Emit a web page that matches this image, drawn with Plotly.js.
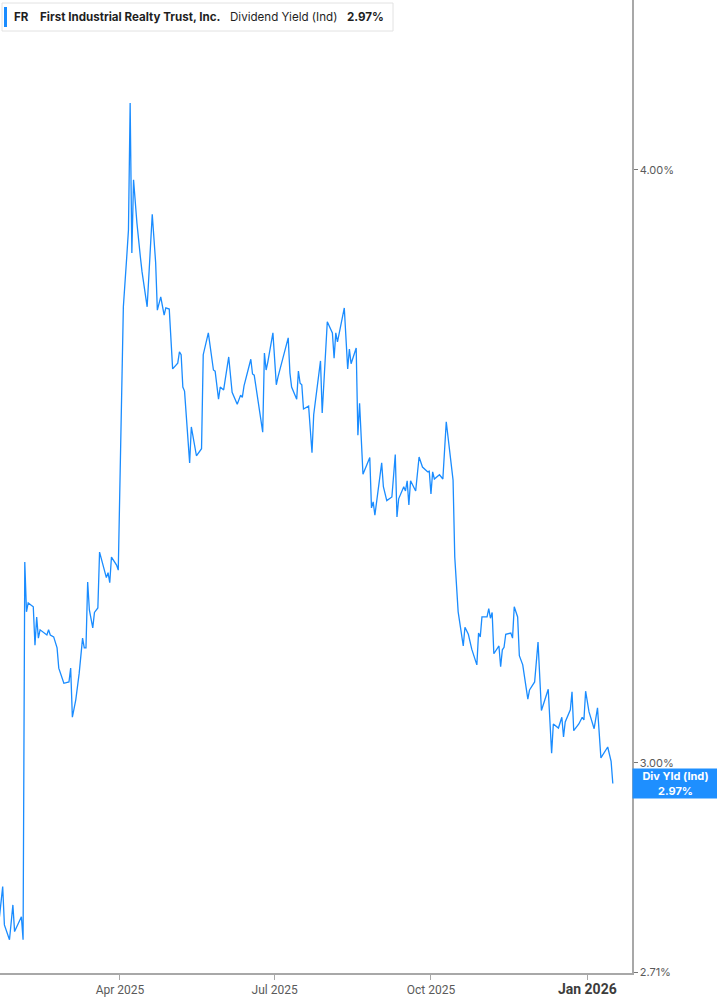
<!DOCTYPE html>
<html>
<head>
<meta charset="utf-8">
<script src="https://cdn.plot.ly/plotly-3.0.1.min.js"></script>
<style>
html,body{margin:0;padding:0;background:#fff;}
#chart{width:717px;height:1005px;}
</style>
</head>
<body>
<div id="chart"></div>
<script>
// ---- Data ----
const ticker = "FR";
const companyName = "First Industrial Realty Trust, Inc.";
const seriesName = "Dividend Yield (Ind)";
const shortName = "Div Yld (Ind)";

const dates = [
"2025-01-20","2025-01-22","2025-01-23","2025-01-26","2025-01-28","2025-01-29","2025-02-02","2025-02-03",
"2025-02-04","2025-02-05","2025-02-06","2025-02-09","2025-02-10","2025-02-11","2025-02-12","2025-02-13",
"2025-02-17","2025-02-18","2025-02-19","2025-02-21","2025-02-23","2025-02-24","2025-02-27","2025-03-02",
"2025-03-03","2025-03-04","2025-03-06","2025-03-08","2025-03-10","2025-03-11","2025-03-12","2025-03-13",
"2025-03-14","2025-03-16","2025-03-17","2025-03-19","2025-03-20","2025-03-24","2025-03-25","2025-03-26",
"2025-03-27","2025-03-30","2025-03-31","2025-04-03","2025-04-05","2025-04-06","2025-04-07","2025-04-08",
"2025-04-09","2025-04-11","2025-04-13","2025-04-14","2025-04-17","2025-04-20","2025-04-22","2025-04-23",
"2025-04-25","2025-04-27","2025-04-28","2025-04-30","2025-05-02","2025-05-05","2025-05-06","2025-05-07",
"2025-05-08","2025-05-09","2025-05-12","2025-05-13","2025-05-16","2025-05-19","2025-05-20","2025-05-23",
"2025-05-26","2025-05-27","2025-05-29","2025-05-30","2025-06-01","2025-06-04","2025-06-06","2025-06-09",
"2025-06-11","2025-06-12","2025-06-13","2025-06-15","2025-06-17","2025-06-18","2025-06-19","2025-06-24",
"2025-06-25","2025-06-26","2025-06-27","2025-06-30","2025-07-02","2025-07-03","2025-07-07","2025-07-09",
"2025-07-10","2025-07-11","2025-07-14","2025-07-15","2025-07-16","2025-07-17","2025-07-18","2025-07-21",
"2025-07-23","2025-07-24","2025-07-28","2025-07-29","2025-08-01","2025-08-04","2025-08-05","2025-08-06",
"2025-08-07","2025-08-11","2025-08-13","2025-08-14","2025-08-15","2025-08-18","2025-08-19","2025-08-20",
"2025-08-22","2025-08-26","2025-08-27","2025-08-28","2025-08-29","2025-09-02","2025-09-03","2025-09-05",
"2025-09-08","2025-09-10","2025-09-11","2025-09-12","2025-09-15","2025-09-16","2025-09-17","2025-09-18",
"2025-09-19","2025-09-22","2025-09-24","2025-09-26","2025-09-29","2025-09-30","2025-10-01","2025-10-02",
"2025-10-03","2025-10-06","2025-10-08","2025-10-10","2025-10-14","2025-10-15","2025-10-17","2025-10-20",
"2025-10-21","2025-10-23","2025-10-25","2025-10-28","2025-10-29","2025-10-30","2025-10-31","2025-11-03",
"2025-11-04","2025-11-05","2025-11-06","2025-11-07","2025-11-10","2025-11-11","2025-11-12","2025-11-13",
"2025-11-14","2025-11-17","2025-11-18","2025-11-19","2025-11-21","2025-11-22","2025-11-24","2025-11-27",
"2025-11-28","2025-12-01","2025-12-03","2025-12-05","2025-12-09","2025-12-11","2025-12-12","2025-12-15",
"2025-12-17","2025-12-18","2025-12-19","2025-12-22","2025-12-23","2025-12-24","2025-12-27","2025-12-29",
"2025-12-30","2025-12-31","2026-01-02","2026-01-05","2026-01-07","2026-01-09","2026-01-13","2026-01-14",
"2026-01-15","2026-01-16"
];

const yieldPct = [
2.782,2.825,2.773,2.753,2.800,2.764,2.784,2.753,
3.307,3.228,3.242,3.236,3.176,3.220,3.187,3.200,
3.192,3.200,3.192,3.189,3.172,3.141,3.118,3.120,
3.141,3.067,3.093,3.133,3.187,3.172,3.172,3.275,
3.231,3.203,3.227,3.234,3.323,3.282,3.290,3.274,
3.315,3.302,3.294,3.743,3.835,3.885,4.132,3.842,
3.981,3.898,3.835,3.807,3.743,3.915,3.824,3.737,
3.761,3.728,3.741,3.739,3.632,3.642,3.662,3.657,
3.600,3.593,3.470,3.531,3.482,3.494,3.657,3.696,
3.630,3.628,3.579,3.600,3.595,3.653,3.591,3.570,
3.586,3.582,3.602,3.626,3.649,3.623,3.621,3.522,
3.660,3.630,3.644,3.696,3.604,3.618,3.662,3.687,
3.625,3.600,3.579,3.628,3.607,3.604,3.562,3.567,
3.487,3.552,3.646,3.555,3.716,3.696,3.651,3.696,
3.680,3.741,3.632,3.667,3.641,3.669,3.517,3.572,
3.451,3.479,3.395,3.405,3.383,3.470,3.430,3.407,
3.413,3.484,3.380,3.410,3.430,3.423,3.440,3.400,
3.440,3.423,3.480,3.463,3.455,3.456,3.418,3.455,
3.443,3.450,3.443,3.540,3.441,3.315,3.228,3.175,
3.204,3.193,3.170,3.146,3.195,3.189,3.220,3.220,
3.233,3.218,3.227,3.163,3.175,3.143,3.169,3.173,
3.193,3.195,3.187,3.236,3.220,3.160,3.146,3.094,
3.108,3.120,3.181,3.077,3.109,3.014,3.057,3.051,
3.067,3.038,3.060,3.078,3.105,3.047,3.057,3.067,
3.063,3.106,3.075,3.050,3.081,3.007,3.023,3.011,
3.002,2.970
];

const xTickVals = ["2025-04-01","2025-07-01","2025-10-01","2026-01-01"];
const xTickText = ["Apr 2025","Jul 2025","Oct 2025",
  "<span style='font-size:14px;fill:#3c3c3c'><b>Jan 2026</b></span>"];
const yTickVals = [2.71, 3.00, 4.00];
const yTickText = ["2.71%","3.00%","4.00%"];

const xRange = ["2025-01-20 10:00","2026-01-27 07:00"];
const yRangeVals = [2.709, 4.344];

// ---- Styles ----
const lineColor = "#1a8cff";
const axisColor = "#a8a8a8";
const tickFontColor = "#5a5a5a";
const narrowFont = "'Liberation Sans Narrow', 'Arial Narrow', Roboto, sans-serif";
const uiFont = "Inter, 'Noto Sans', sans-serif";

const last = yieldPct[yieldPct.length - 1];
const lastTxt = last.toFixed(2) + "%";

const M = {l:0, r:85, t:0, b:32};
const W = 717, H = 1005;
const pw = W - M.l - M.r, ph = H - M.t - M.b;
const px2x = p => p / pw;          // pixel -> paper x
const py2y = p => 1 - p / ph;      // pixel -> paper y

const trace = {
  x: dates, y: yieldPct, type: "scatter", mode: "lines",
  line: {color: lineColor, width: 1.3}, hoverinfo: "skip"
};

const headerFont = {family: uiFont, size: 11.6, color: "#1f1f1f"};
const annotations = [
  {xref:"paper", yref:"paper", x:px2x(12), y:py2y(17), xanchor:"left", yanchor:"middle",
   text:"<b>"+ticker+"</b>", showarrow:false, font:headerFont},
  {xref:"paper", yref:"paper", x:px2x(38), y:py2y(17), xanchor:"left", yanchor:"middle",
   text:"<b>"+companyName+"</b>", showarrow:false, font:headerFont},
  {xref:"paper", yref:"paper", x:px2x(228), y:py2y(17), xanchor:"left", yanchor:"middle",
   text:seriesName, showarrow:false, font:headerFont},
  {xref:"paper", yref:"paper", x:px2x(345), y:py2y(17), xanchor:"left", yanchor:"middle",
   text:"<b>"+lastTxt+"</b>", showarrow:false, font:headerFont},
  {xref:"paper", yref:"y", x:1, y:Math.log10(last), xanchor:"left", yanchor:"middle",
   text:"<b>"+shortName+"</b><br><b>"+lastTxt+"</b>", showarrow:false,
   bgcolor:"#1e8fff", borderpad:2, width:81, height:25, align:"center",
   font:{family:uiFont, size:11, color:"#ffffff"}}
];

const shapes = [
  {type:"rect", xref:"paper", yref:"paper", x0:px2x(2), x1:px2x(393), y0:py2y(3), y1:py2y(31),
   line:{color:"#e2e2e2", width:1}, fillcolor:"#ffffff", layer:"below"},
  {type:"rect", xref:"paper", yref:"paper", x0:px2x(4), x1:px2x(7), y0:py2y(7), y1:py2y(27),
   line:{width:0}, fillcolor:"#1a8cff"}
];

const layout = {
  width: W, height: H,
  margin: M,
  paper_bgcolor: "#ffffff", plot_bgcolor: "#ffffff",
  showlegend: false,
  xaxis: {
    type: "date", range: xRange, showgrid: false, zeroline: false,
    showline: true, linecolor: axisColor, linewidth: 2,
    ticks: "outside", ticklen: 5, tickcolor: axisColor, tickwidth: 1,
    tickvals: xTickVals, ticktext: xTickText,
    tickfont: {family: narrowFont, size: 12, color: tickFontColor}
  },
  yaxis: {
    type: "log", side: "right", range: yRangeVals.map(Math.log10),
    showgrid: false, zeroline: false,
    showline: true, linecolor: axisColor, linewidth: 1.5,
    ticks: "outside", ticklen: 4, tickcolor: "#777", tickwidth: 1,
    tickvals: yTickVals, ticktext: yTickText,
    tickfont: {family: uiFont, size: 11, color: tickFontColor}
  },
  annotations: annotations,
  shapes: shapes
};

Plotly.newPlot("chart", [trace], layout, {staticPlot: true, displayModeBar: false});
</script>
</body>
</html>
